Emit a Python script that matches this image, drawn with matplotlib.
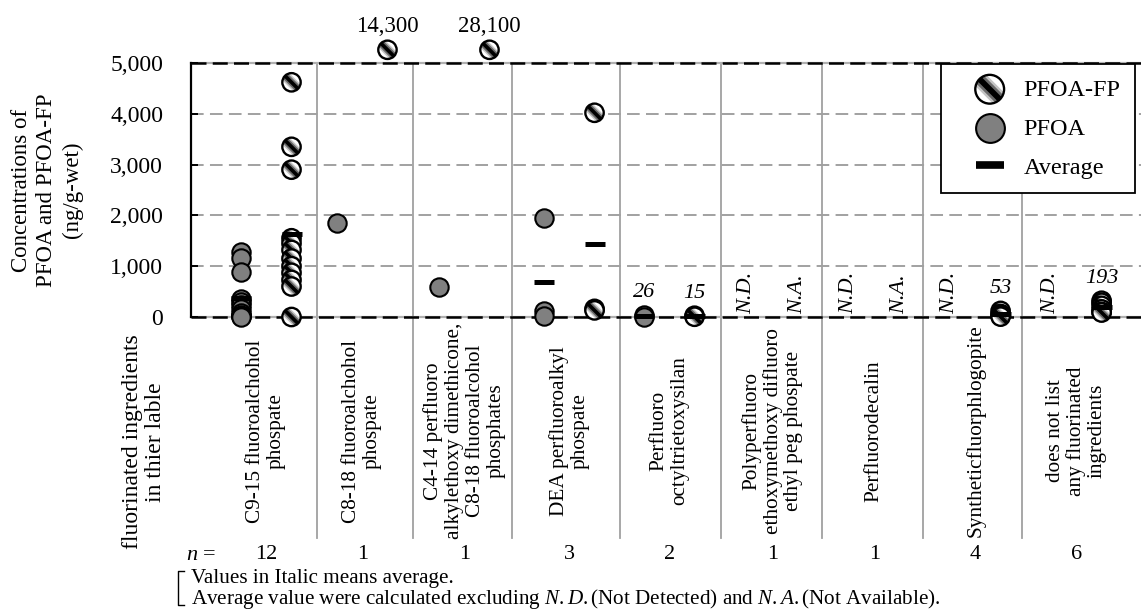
import numpy as np
import matplotlib
matplotlib.use("Agg")
import matplotlib.pyplot as plt
from matplotlib.lines import Line2D
from matplotlib.path import Path
from matplotlib.legend_handler import HandlerTuple

plt.rcParams['font.family'] = ['Liberation Serif', 'DejaVu Serif']
plt.rcParams['mathtext.fontset'] = 'custom'
plt.rcParams['mathtext.rm'] = 'Liberation Serif'
plt.rcParams['mathtext.it'] = 'Liberation Serif:italic'

# ---------------- data ----------------
categories = [
    "C9-15 fluoroalchohol\nphospate",
    "C8-18 fluoroalchohol\nphospate",
    "C4-14 perfluoro\nalkylethoxy dimethicone,\nC8-18 fluoroalcohol\nphosphates",
    "DEA perfluoroalkyl\nphospate",
    "Perfluoro\noctyltrietoxysilan",
    "Polyperfluoro\nethoxymethoxy difluoro\nethyl peg phospate",
    "Perfluorodecalin",
    "Syntheticfluorphlogopite",
    "does not list\nany fluorinated\ningredients",
]
n_counts = [12, 1, 1, 3, 2, 1, 1, 4, 6]

pfoa = [
    [1270, 1160, 880, 360, 300, 240, 150, 80, 40, 20, 10, 0],
    [1850],
    [590],
    [1950, 110, 10],
    [45, 7],
    "N.D.",
    "N.D.",
    "N.D.",
    "N.D.",
]
pfoa_fp = [
    [4620, 3350, 2900, 1550, 1450, 1320, 1150, 1000, 870, 730, 600, 0],
    [14300],
    [28100],
    [4020, 160, 130],
    [25, 5],
    "N.A.",
    "N.A.",
    [120, 60, 25, 7],
    [320, 280, 220, 150, 100, 88],
]
yticks = [0, 1000, 2000, 3000, 4000, 5000]


# ---------------- striped marker helper ----------------
def band_path(w):
    """Region of the unit circle inside a diagonal (\\) strip of half-width w."""
    b = np.arcsin(w)
    c1 = np.deg2rad(135)
    c2 = np.deg2rad(315)
    a1 = np.linspace(c1 - b, c1 + b, 20)
    a2 = np.linspace(c2 - b, c2 + b, 20)
    ang = np.concatenate([a1, a2])
    verts = np.column_stack([np.cos(ang), np.sin(ang)])
    verts = np.vstack([verts, verts[:1]])
    codes = [Path.MOVETO] + [Path.LINETO] * (len(verts) - 2) + [Path.CLOSEPOLY]
    p = Path(verts, codes)
    rescale = np.max(np.abs(verts))
    return p, rescale ** 2

bands = [(band_path(0.55), '#c4c4c4'), (band_path(0.38), '#6a6a6a'),
         (band_path(0.2), '#000000')]


def striped(ax, x, y, s, z, **kw):
    ax.scatter([x], [y], s=s, marker='o', facecolor='white', edgecolor='none',
               zorder=z, **kw)
    for (p, f), col in bands:
        ax.scatter([x], [y], s=s * f, marker=p, facecolor=col,
                   edgecolor='none', zorder=z + 0.01, **kw)
    ax.scatter([x], [y], s=s, marker='o', facecolor='none', edgecolor='black',
               linewidths=1.7, zorder=z + 0.02, **kw)


# ---------------- layout ----------------
W, H = 1141, 611
fig = plt.figure(figsize=(W / 100, H / 100), dpi=100)
ax_l, ax_r, ax_t, ax_b = 191, 1141, 63, 317
ax = fig.add_axes([ax_l / W, 1 - ax_b / H, (ax_r - ax_l) / W, (ax_b - ax_t) / H])

xc = np.array([0, 0.95, 1.96, 3.0, 3.99, 5.01, 6.02, 7.02, 8.02])
seps = [0.5, 1.45, 2.43, 3.5, 4.5, 5.5, 6.5, 7.48]
off = 0.25
ymax = 5000
cap_y = 5260

ax.set_xlim(-0.745, 8.66)
ax.set_ylim(0, ymax)
FS = 16

for s in ['top', 'right', 'bottom']:
    ax.spines[s].set_visible(False)
ax.spines['left'].set_linewidth(1.6)
ax.set_xticks([])
ax.set_yticks(yticks)
ax.set_yticklabels([f"{v:,}" for v in yticks], fontsize=17)
ax.tick_params(axis='y', direction='in', length=5, width=1.4, pad=20)

# grid lines
for v in yticks[1:-1]:
    ax.axhline(v, color='#9a9a9a', lw=1.3, dashes=(7, 3.5), zorder=1)
for v in [0, ymax]:
    ax.axhline(v, color='#b0b0b0', lw=1.6, zorder=1.5, clip_on=False)
    ax.axhline(v, color='black', lw=1.8, dashes=(6, 2.5), zorder=1.6, clip_on=False)

# separators
xt = ax.get_xaxis_transform()
for s in seps:
    ax.plot([s, s], [1, -0.87], transform=xt, color='#a0a0a0', lw=1.3,
            clip_on=False, zorder=1)

MS = 175
z = 3.0
for i in range(len(categories)):
    # PFOA
    x = xc[i] - off
    vals = pfoa[i]
    if isinstance(vals, str):
        ax.text(x, 60, vals, rotation=90, ha='center', va='bottom',
                fontsize=FS, fontstyle='italic', zorder=4)
    else:
        vals = np.asarray(vals, dtype=float)
        ax.scatter(np.full(len(vals), x), np.minimum(vals, cap_y), s=MS,
                   marker='o', facecolor='#808080', edgecolor='black',
                   linewidths=1.5, zorder=3, clip_on=False)
    # PFOA-FP
    x2 = xc[i] + off
    vals2 = pfoa_fp[i]
    if isinstance(vals2, str):
        ax.text(x2, 60, vals2, rotation=90, ha='center', va='bottom',
                fontsize=FS, fontstyle='italic', zorder=4)
    else:
        vals2 = np.asarray(vals2, dtype=float)
        for v in vals2:
            striped(ax, x2, min(v, cap_y), MS, z, clip_on=False)
            z += 0.05
        for v in vals2[vals2 > ymax]:
            ax.annotate(f"{int(v):,}", (x2, cap_y), xytext=(0, 9),
                        textcoords='offset points', ha='center', va='bottom',
                        fontsize=16.5, annotation_clip=False)

    # averages
    for vv, xx in [(vals, x), (vals2, x2)]:
        if isinstance(vv, str) or len(vv) < 2:
            continue
        avg = np.mean(vv)
        ax.plot([xx], [avg], marker='_', ms=14, mew=3.6, color='black',
                ls='none', zorder=20, clip_on=False)
        if np.max(vv) < 500:
            ax.annotate(f"{avg:.0f}", (xx, np.max(vv)), xytext=(0, 9),
                        textcoords='offset points', ha='center',
                        va='bottom', fontsize=FS, fontstyle='italic',
                        zorder=21)

# category labels and counts
for i, (lab, n) in enumerate(zip(categories, n_counts)):
    ax.text(xc[i], -0.449, lab, transform=xt, rotation=90, ha='center',
            va='center', multialignment='center', fontsize=15.3, linespacing=1.12)
    ax.text(xc[i], -0.937, str(n), transform=xt, ha='center', va='center',
            fontsize=FS)

fig.text(186 / W, 1 - 555 / H, "n", fontstyle='italic', fontsize=FS,
         ha='left', va='center')
fig.text(203 / W, 1 - 555 / H, "=", fontsize=FS, ha='left', va='center')

# left side labels
fig.text(47 / W, 1 - 190 / H, "Concentrations of\nPFOA and PFOA-FP\n(ng/g-wet)",
         rotation=90, ha='center', va='center', multialignment='center',
         fontsize=16.5, linespacing=1.25)
fig.text(144 / W, 1 - 442 / H, "fluorinated ingredients\nin thier lable",
         rotation=90, ha='center', va='center', multialignment='center',
         fontsize=17, linespacing=1.1)

# footnote with bracket
bx = 178
fig.add_artist(Line2D([(bx + 6) / W, bx / W, bx / W, (bx + 6) / W],
                      [1 - 571 / H, 1 - 571 / H, 1 - 605 / H, 1 - 605 / H],
                      color='black', lw=1.0))
fig.text(191 / W, 1 - 578 / H, "Values in Italic means average.", fontsize=15.2,
         ha='left', va='center')
fig.text(191 / W, 1 - 599 / H,
         "Average value were calculated excluding $N.D.$(Not Detected) and $N.A.$(Not Available).",
         fontsize=15.2, ha='left', va='center')

# legend
LS = 430
fp_parts = [ax.scatter([], [], s=LS, marker='o', facecolor='white',
                       edgecolor='none')]
for (p, f), col in bands:
    fp_parts.append(ax.scatter([], [], s=LS * f, marker=p, facecolor=col,
                               edgecolor='none'))
fp_parts.append(ax.scatter([], [], s=LS, marker='o', facecolor='none',
                           edgecolor='black', linewidths=1.7))
h_pf = ax.scatter([], [], s=LS, marker='o', facecolor='#808080',
                  edgecolor='black', linewidths=1.5)
h_av = Line2D([], [], color='black', marker='_', ls='none', ms=20, mew=5.5)
leg = ax.legend([tuple(fp_parts), h_pf, h_av], ["PFOA-FP", "PFOA", "Average"],
                handler_map={tuple: HandlerTuple(ndivide=1, pad=0)},
                loc='upper right', bbox_to_anchor=(0.994, 0.996),
                borderaxespad=0, fontsize=17.5, frameon=True, fancybox=False,
                edgecolor='black', framealpha=1, handlelength=2.8,
                handletextpad=0.0, labelspacing=0.7, borderpad=0.6,
                scatterpoints=1)
leg.get_frame().set_linewidth(1.3)
leg.set_zorder(30)

fig.savefig("out.png", dpi=100)
